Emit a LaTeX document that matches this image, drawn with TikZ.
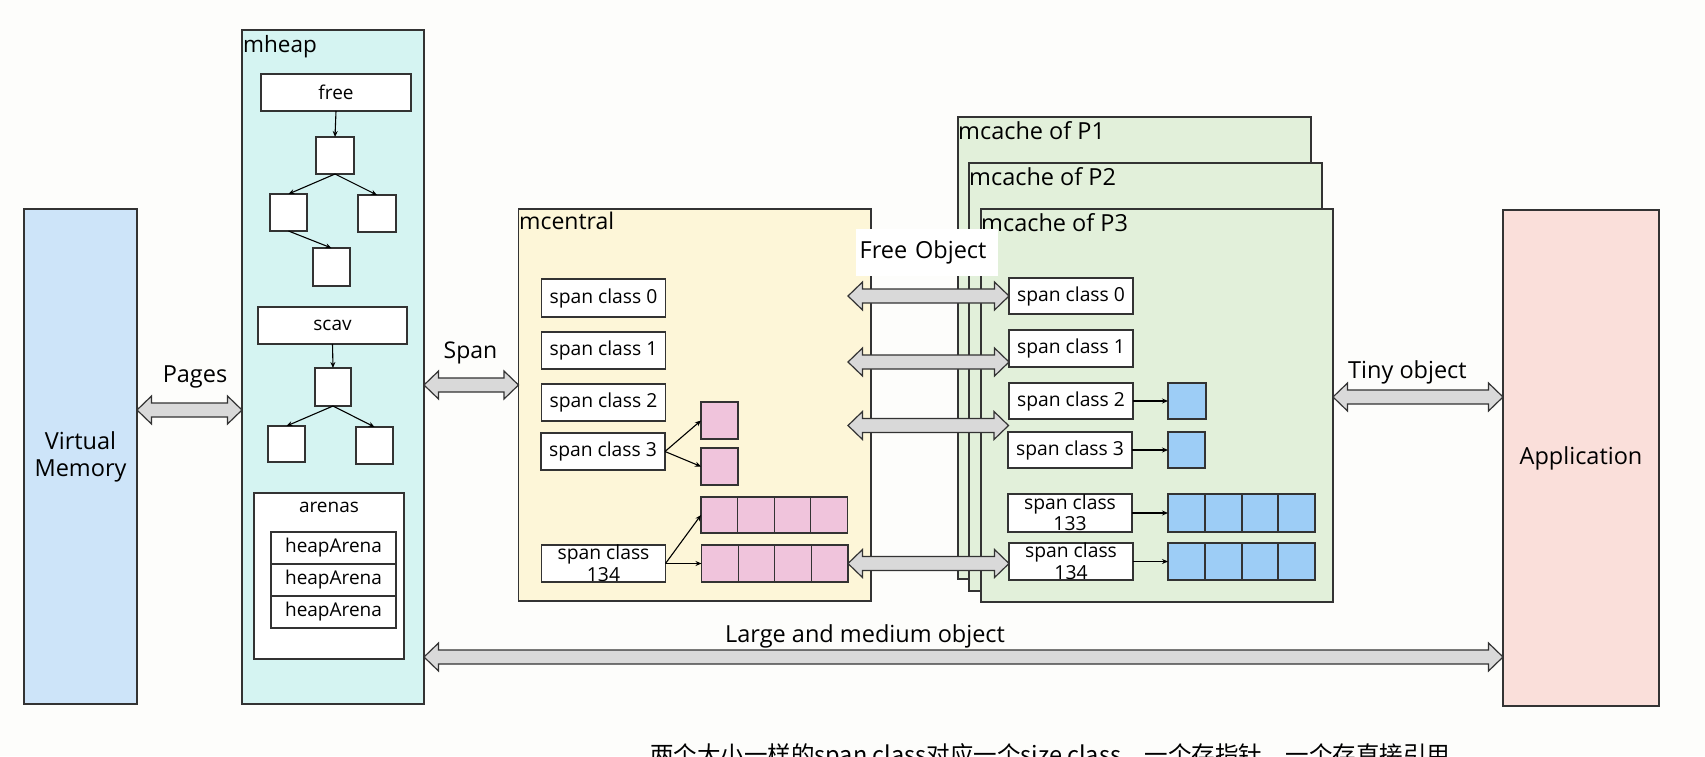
\documentclass[tikz,border=0pt]{standalone}
\usepackage{fontspec}
\setmainfont{Open Sans}
\newfontfamily\cjkfont{Noto Sans CJK SC}
\usetikzlibrary{calc,arrows.meta}

\definecolor{bgc}{HTML}{FDFDFB}
\definecolor{lc}{HTML}{333333}
\definecolor{vmfill}{HTML}{CDE4F9}
\definecolor{heapfill}{HTML}{D5F4F2}
\definecolor{centralfill}{HTML}{FDF6D8}
\definecolor{cachefill}{HTML}{E2F0DA}
\definecolor{appfill}{HTML}{FADFDA}
\definecolor{pinkcell}{HTML}{F0C4DC}
\definecolor{bluecell}{HTML}{9DCDF6}
\definecolor{arrowgray}{HTML}{D9D9D9}

% rectangle node from its top-left and bottom-right corners (in px)
% #1 style, #2 name, #3 x1, #4 y1, #5 x2, #6 y2, #7 text
\newcommand\bx[7]{%
  \node[#1, anchor=north west, minimum width={#5pt-#3pt},
        minimum height={#6pt-#4pt}] (#2) at (#3,#4) {#7};}

% horizontal double-headed block arrow between two points
\newcommand\blockarrow[2]{%
  \path[barrow] let \p1=#1, \p2=#2 in
    (\x1,\y1) -- (\x1+14.5pt,\y1+14pt) -- (\x1+14.5pt,\y1+7pt)
    -- (\x2-14.5pt,\y1+7pt) -- (\x2-14.5pt,\y1+14pt) -- (\x2,\y1)
    -- (\x2-14.5pt,\y1-14pt) -- (\x2-14.5pt,\y1-7pt)
    -- (\x1+14.5pt,\y1-7pt) -- (\x1+14.5pt,\y1-14pt) -- cycle;}

\begin{document}
\begin{tikzpicture}[x=1pt,y=-1pt,
  box/.style={draw=lc, line width=1.2pt, outer sep=0pt, inner sep=0pt},
  wbox/.style={box, fill=white},
  fbig/.style={font=\fontsize{23.5}{27}\selectfont},
  fsmall/.style={font=\fontsize{19}{22}\selectfont},
  fspan/.style={font=\fontsize{19.3}{21.5}\selectfont},
  lbl/.style={inner sep=0pt, anchor=base west},
  tip/.style={-{Stealth[length=6pt,width=5pt]}, line width=1.1pt, draw=black},
  barrow/.style={fill=arrowgray, draw=lc, line width=1.2pt, line join=miter},
  pink/.style={box, fill=pinkcell},
  blue/.style={box, fill=bluecell}]

\fill[bgc] (0,0) rectangle (1705,756);
\useasboundingbox (0,0) rectangle (1705,756);
\clip (0,0) rectangle (1705,756);

% ---------- virtual memory ----------
\bx{box, fill=vmfill, fbig, align=center}{vm}{24}{209}{137}{704}{Virtual\\Memory}

% ---------- mheap ----------
\bx{box, fill=heapfill}{mheap}{242}{30}{424}{704}{}
\node[lbl, font=\fontsize{22.5}{26}\selectfont] (mheapL) at (243,52) {mheap};

\bx{wbox, fsmall}{free}{261}{74}{411}{111}{free}
\bx{wbox}{fr1}{316}{137}{354}{174}{}
\bx{wbox}{fr2l}{270}{194}{307}{231}{}
\bx{wbox}{fr2r}{358}{195}{396}{232}{}
\bx{wbox}{fr3}{313}{248}{350}{286}{}
\draw[tip] (free.south) -- (fr1.north);
\draw[tip] (fr1.south) -- (fr2l.north);
\draw[tip] (fr1.south) -- (fr2r.north);
\draw[tip] (fr2l.south) -- (fr3.north);

\bx{wbox, fsmall}{scav}{258}{307}{407}{344}{scav}
\bx{wbox}{sv1}{315}{368}{351}{406}{}
\bx{wbox}{sv2l}{268}{426}{305}{462}{}
\bx{wbox}{sv2r}{356}{427}{393}{464}{}
\draw[tip] (scav.south) -- (sv1.north);
\draw[tip] (sv1.south) -- (sv2l.north);
\draw[tip] (sv1.south) -- (sv2r.north);

\bx{wbox}{arenas}{254}{493}{404}{659}{}
\node[inner sep=0pt, anchor=base, fsmall] (arenasL) at (329,512) {arenas};
\bx{wbox, fsmall}{ha1}{271}{532}{396}{564}{heapArena}
\bx{wbox, fsmall}{ha2}{271}{564}{396}{596}{heapArena}
\bx{wbox, fsmall}{ha3}{271}{596}{396}{628}{heapArena}

% ---------- mcentral ----------
\bx{box, fill=centralfill}{mcentral}{518.5}{209}{871}{601}{}
\node[lbl, font=\fontsize{23}{26}\selectfont] (mcentralL) at (519,229) {mcentral};

\bx{wbox, fspan}{cs0}{541.5}{279}{665.5}{317}{span class 0}
\bx{wbox, fspan}{cs1}{541.5}{332}{665.5}{369}{span class 1}
\bx{wbox, fspan}{cs2}{541.5}{384}{665.5}{421}{span class 2}
\bx{wbox, fspan}{cs3}{541}{433}{665}{470}{span class 3}
\bx{wbox, fspan, align=center}{cs134}{541.5}{545}{665.5}{582}{span class\\134}

\bx{pink}{pk1}{701}{402}{738}{439}{}
\bx{pink}{pk2}{701}{448}{738}{485}{}
\bx{pink}{pa1}{701}{497}{737.6}{533}{}
\bx{pink}{pa2}{737.6}{497}{774.2}{533}{}
\bx{pink}{pa3}{774.2}{497}{810.8}{533}{}
\bx{pink}{pa4}{810.8}{497}{847.4}{533}{}
\bx{pink}{pb1}{701.5}{545}{738.1}{582}{}
\bx{pink}{pb2}{738.1}{545}{774.7}{582}{}
\bx{pink}{pb3}{774.7}{545}{811.3}{582}{}
\bx{pink}{pb4}{811.3}{545}{848}{582}{}

\draw[tip] (cs3.east) -- (pk1.west);
\draw[tip] (cs3.east) -- (pk2.west);
\draw[tip] (cs134.east) -- (pa1.west);
\draw[tip] (cs134.east) -- (pb1.west);

% ---------- mcache of each P ----------
\bx{box, fill=cachefill}{p1}{958}{117}{1311}{579}{}
\node[lbl, fbig] (p1L) at (958,139) {mcache of P1};
\bx{box, fill=cachefill}{p2}{969}{163}{1322}{591}{}
\node[lbl, fbig] (p2L) at (969,185) {mcache of P2};
\bx{box, fill=cachefill}{p3}{981}{209}{1333}{602}{}
\node[lbl, fbig] (p3L) at (981,231) {mcache of P3};

\bx{wbox, fspan}{mc0}{1009}{278}{1133}{314}{span class 0}
\bx{wbox, fspan}{mc1}{1009}{330}{1133}{367}{span class 1}
\bx{wbox, fspan}{mc2}{1009}{383}{1133}{419}{span class 2}
\bx{wbox, fspan}{mc3}{1008}{432}{1132}{468}{span class 3}
\bx{wbox, fspan, align=center}{mc133}{1008}{494}{1132}{532}{span class\\133}
\bx{wbox, fspan, align=center}{mc134}{1009}{543}{1133}{580}{span class\\134}

\bx{blue}{bl2}{1168}{383}{1206}{419}{}
\bx{blue}{bl3}{1168}{432}{1205}{468}{}
\bx{blue}{ba1}{1168}{494}{1205}{532}{}
\bx{blue}{ba2}{1205}{494}{1242}{532}{}
\bx{blue}{ba3}{1242}{494}{1278}{532}{}
\bx{blue}{ba4}{1278}{494}{1315}{532}{}
\bx{blue}{bb1}{1168}{543}{1205}{580}{}
\bx{blue}{bb2}{1205}{543}{1242}{580}{}
\bx{blue}{bb3}{1242}{543}{1278}{580}{}
\bx{blue}{bb4}{1278}{543}{1315}{580}{}

\draw[tip] (mc2.east) -- (bl2.west);
\draw[tip] (mc3.east) -- (bl3.west);
\draw[tip] (mc133.east) -- (ba1.west);
\draw[tip] (mc134.east) -- (bb1.west);

% ---------- application ----------
\bx{box, fill=appfill, fbig}{app}{1503}{210}{1659}{706}{Application}

% ---------- block arrows ----------
\coordinate (pgY) at (0,410);
\coordinate (spY) at (0,385);
\coordinate (tnY) at (0,397);
\coordinate (lgY) at (0,657);
\coordinate (fo2) at ([yshift=-13.5pt]mc1.west);
\coordinate (fo3) at ($(mc2.south west)!0.5!(mc3.north west)$);

\blockarrow{(vm.east |- pgY)}{(mheap.west |- pgY)}
\blockarrow{(mheap.east |- spY)}{(mcentral.west |- spY)}
\blockarrow{(pb4.east |- mc0.west)}{(mc0.west)}
\blockarrow{(pb4.east |- fo2)}{(fo2)}
\blockarrow{(pb4.east |- fo3)}{(fo3)}
\blockarrow{(pb4.east)}{(mc134.west)}
\blockarrow{(p3.east |- tnY)}{(app.west |- tnY)}
\blockarrow{(mheap.east |- lgY)}{(app.west |- lgY)}

% ---------- arrow labels ----------
\node[inner sep=0pt, anchor=base, fbig] (pagesL) at (195,382) {Pages};
\node[lbl, font=\fontsize{23}{26}\selectfont] (spanL) at (443.5,358) {Span};
\node[fill=white, anchor=west, inner sep=3.5pt, text width=135pt, align=left,
      minimum height=47pt, fbig] (freeObj) at (856,252) {Free Object};
\node[lbl, fbig] (tinyL) at (1348,378) {Tiny object};
\node[lbl, fbig] (largeL) at (725,642) {Large and medium object};

% ---------- caption line ----------
\node[lbl, font=\cjkfont\fontsize{23.5}{28}\selectfont] (note) at (650,763)
  {两个大小一样的span class对应一个size class，一个存指针，一个存直接引用};

\end{tikzpicture}
\end{document}
